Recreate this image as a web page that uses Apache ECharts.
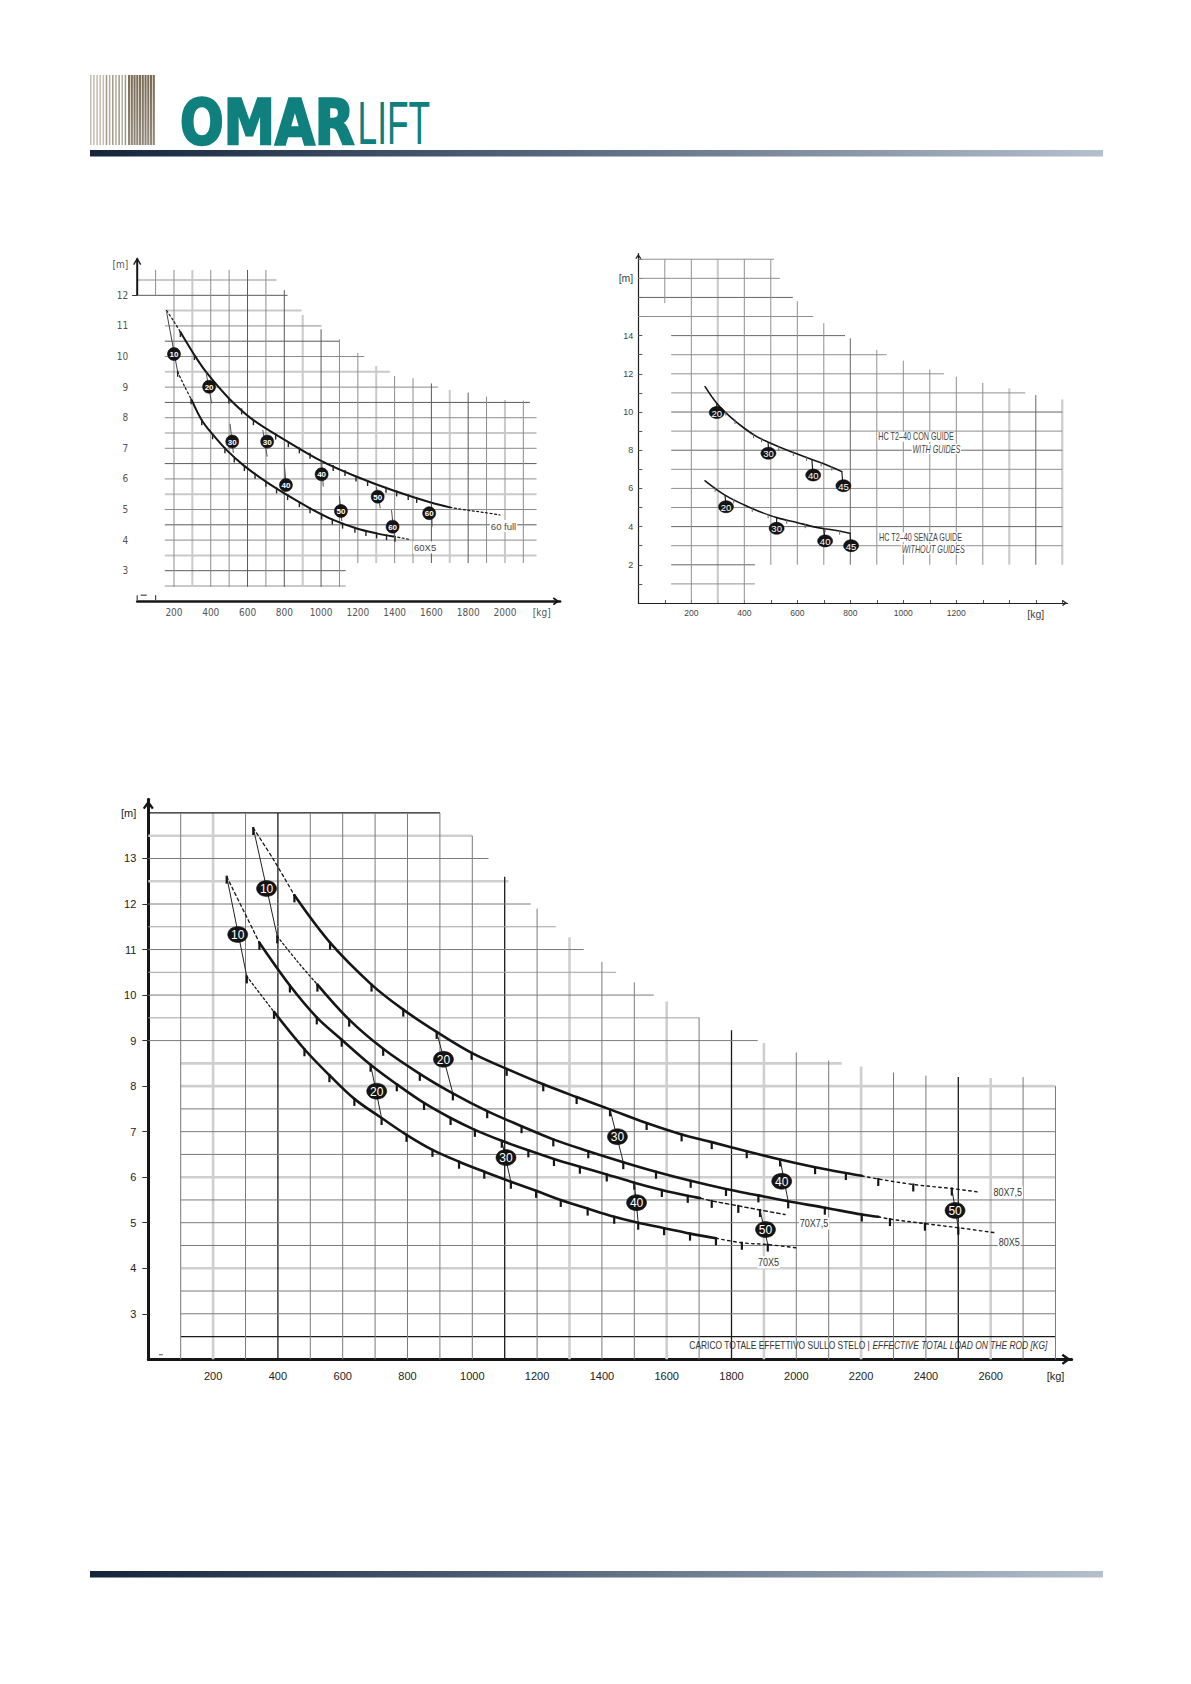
<!DOCTYPE html>
<html><head><meta charset="utf-8">
<script src="https://cdn.jsdelivr.net/npm/echarts/dist/echarts.min.js"></script>
<style>html,body{margin:0;padding:0;background:#fff}#c{width:1191px;height:1684px}</style>
</head><body><div id="c"></div>
<script>
// ================= DATA (axis units: kg, m) =================
// ---- top-left chart (60 full / 60X5) ----
const TL_X_LABELS = [200,400,600,800,1000,1200,1400,1600,1800,2000];
const TL_X_UNIT_AT = 2200;
const TL_Y_LABELS = [3,4,5,6,7,8,9,10,11,12];
const TL_Y_UNIT_AT = 13;
const TL_H_LINES = [[12.5,0,758],[12,0,818],[11.5,150,894],[11,150,1003],[10.5,150,1103],[10,150,1235],[9.5,150,1375],[9,150,1637],[8.5,150,2136],[8,150,2172],[7.5,150,2172],[7,150,2172],[6.5,150,2172],[6,150,2172],[5.5,150,2172],[5,150,2172],[4.5,150,2172],[4,150,2172],[3.5,150,2172],[3,150,1134],[2.5,150,1134]];
const TL_V_LINES = [[100,12,12.83],[200,2.47,12.83],[300,2.47,12.83],[400,2.47,12.83],[500,2.47,12.83],[600,2.47,12.83],[700,2.47,12.83],[800,2.47,12.17],[900,2.47,11.36],[1000,2.47,10.89],[1100,2.47,10.56],[1200,3.25,10.12],[1300,3.25,9.69],[1400,3.25,9.36],[1500,3.25,9.29],[1600,3.25,9.12],[1700,3.25,8.91],[1800,3.25,8.82],[1900,3.25,8.69],[2000,3.25,8.58],[2100,3.25,8.56]];
const TL_Y_AXIS_PART = [[0,12,0,13.2]];
const TL_STUBS = [[0,2.04,0,2.2],[100,2.04,100,2.2],[19,2.2,52,2.2]];
const TL_UPPER_LEAD = [[160,11.5],[197,11.17],[235,10.8]];
const TL_UPPER = [[235,10.8],[311,10.05],[378,9.47],[499,8.63],[632,7.92],[804,7.27],[1003,6.58],[1194,6.07],[1393,5.62],[1601,5.22],[1701,5.07]];
const TL_UPPER_TAIL = [[1701,5.07],[1792,4.98],[1890,4.9],[1973,4.82]];
const TL_LOWER_THIN = [[160,11.45],[220,9.5]];
const TL_LOWER_LEAD = [[220,9.5],[258,9.02],[296,8.58]];
const TL_LOWER = [[296,8.58],[351,7.92],[414,7.43],[487,6.94],[577,6.45],[700,5.91],[800,5.53],[940,5.04],[1066,4.66],[1194,4.38],[1302,4.22],[1393,4.12]];
const TL_LOWER_TAIL = [[1393,4.12],[1440,4.07],[1484,4.02]];
const TL_UPPER_TICKS = [[235,10.8],[311,10.05],[499,8.63],[568,8.27],[632,7.92],[753,7.45],[822,7.2],[882,7.0],[940,6.82],[1066,6.42],[1130,6.26],[1190,6.08],[1253,5.93],[1353,5.71],[1411,5.59],[1474,5.47],[1520,5.38]];
const TL_LOWER_TICKS = [[220,9.5],[293,8.6],[351,7.92],[410,7.46],[477,7.0],[528,6.7],[583,6.42],[641,6.17],[700,5.91],[758,5.69],[818,5.47],[882,5.24],[940,5.04],[1003,4.84],[1061,4.67],[1117,4.54],[1184,4.40],[1244,4.30],[1302,4.22],[1356,4.16],[1402,4.11]];
const TL_BADGE_POS = [[200,10.08],[391,9.01],[517,7.22],[707,7.22],[809,5.8],[1003,6.15],[1108,4.95],[1308,5.42],[1389,4.44],[1588,4.88]];
const TL_BADGE_TXT = ['10','20','30','30','40','40','50','50','60','60'];
const TL_LEADERS = [[374,9.5,405,8.47],[505,7.8,523,6.85],[683,7.6,707,6.73],[800,6.5,813,5.6],[1003,6.57,1012,5.75],[1100,5.44,1113,4.62],[1300,5.75,1322,5.04],[1383,4.98,1401,4.03],[1600,5.22,1604,4.44]];
const TL_NOTE_POS = [[1918,4.46],[1500,3.76]];
const TL_NOTE_TXT = ['60 full','60X5'];

// ---- top-right chart (HC T2-40) ----
const TR_X_LABELS = [200,400,600,800,1000,1200];
const TR_X_UNIT_AT = 1500;
const TR_Y_LABELS = [2,4,6,8,10,12,14];
const TR_Y_UNIT_AT = 17;
const TR_H_LINES = [[18,0,512],[17,0,534],[16,0,583],[15,0,660],[14,124,780],[13,124,937],[12,124,1154],[11,124,1460],[10,124,1600],[9,124,1600],[8,124,1600],[7,124,1600],[6,124,1600],[5,124,1600],[4,124,1600],[3,124,1600],[2,124,440],[1,124,440]];
const TR_V_LINES = [[100,15.7,18],[200,0,18],[300,0,18],[400,0,18],[500,2,18],[600,2,15.8],[700,2,14.65],[800,2,13.86],[900,2,13.25],[1000,2,12.69],[1100,2,12.23],[1200,2,11.85],[1300,2,11.53],[1400,2,11.24],[1500,2,10.89],[1600,2,10.66]];
const TR_UPPER = [[252,11.33],[296,10.46],[346,9.76],[400,9.15],[447,8.71],[491,8.42],[560,8.01],[610,7.75],[660,7.49],[711,7.23],[768,6.88]];
const TR_LOWER = [[252,6.4],[327,5.65],[400,5.13],[459,4.78],[522,4.47],[598,4.21],[673,3.96],[736,3.82],[799,3.65]];
const TR_TICKS = [[330,10.0],[365,9.55],[435,8.82],[465,8.6],[530,8.15],[585,7.88],[635,7.62],[690,7.33],[730,7.12],[290,6.0],[360,5.4],[430,4.95],[490,4.62],[560,4.33],[630,4.1],[705,3.89],[760,3.76]];
const TR_BADGE_POS = [[296,9.97],[491,7.84],[660,6.70],[774,6.14],[331,5.04],[522,3.91],[705,3.25],[803,3.0]];
const TR_BADGE_TXT = ['20','30','40','45','20','30','40','45'];
const TR_LEADERS = [[296,10.46,296,10.2],[490,8.42,491,8.1],[655,7.52,658,6.95],[768,6.88,771,6.4],[327,5.65,330,5.3],[522,4.47,522,4.15],[700,3.88,703,3.5],[799,3.65,801,3.25]];
const TR_NOTE_POS = [[903,8.71],[1218,8.06],[906,3.44],[1235,2.81]];
const TR_NOTE_TXT = ['HC T2\u201340 CON GUIDE','WITH GUIDES','HC T2\u201340 SENZA GUIDE','WITHOUT GUIDES'];

// ---- bottom chart (70X5, 70X7,5, 80X5, 80X7,5) ----
const B_X_LABELS = [200,400,600,800,1000,1200,1400,1600,1800,2000,2200,2400,2600];
const B_X_UNIT_AT = 2800;
const B_Y_LABELS = [3,4,5,6,7,8,9,10,11,12,13];
const B_Y_UNIT_AT = 14;
const B_H_LINES = [[14,0,900],[13.5,0,1000],[13,0,1050],[12.5,0,1112],[12,0,1180],[11.5,0,1258],[11,0,1344],[10.5,0,1444],[10,0,1560],[9.5,0,1700],[9,0,1881],[8.5,100,2140],[8,100,2800],[7.5,100,2800],[7,100,2800],[6.5,100,2800],[6,100,2800],[5.5,100,2800],[5,100,2800],[4.5,100,2800],[4,100,2800],[3.5,100,2800],[3,100,2800],[2.5,100,2800]];
const B_V_LINES = [[100,2,14],[200,2,14],[300,2,14],[400,2,14],[500,2,14],[600,2,14],[700,2,14],[800,2,14],[900,2,14],[1000,2,13.5],[1100,2,12.6],[1200,2,11.9],[1300,2,11.27],[1400,2,10.73],[1500,2,10.28],[1600,2,9.86],[1700,2,9.51],[1800,2,9.23],[1900,2,8.95],[2000,2,8.74],[2100,2,8.56],[2200,2,8.43],[2300,2,8.3],[2400,2,8.23],[2500,2,8.2],[2600,2,8.18],[2700,2,8.2],[2800,2,8.0]];
const B_STUBS = [[33,2.1,45,2.1]];
const B_C1_LEAD = [[324,13.67],[386,12.98],[451,12.19]];
const B_C1 = [[451,12.19],[561,11.15],[689,10.23],[787,9.68],[890,9.19],[998,8.73],[1106,8.38],[1219,8.04],[1322,7.76],[1425,7.49],[1538,7.19],[1646,6.94],[1739,6.77],[1847,6.57],[1950,6.39],[2058,6.22],[2153,6.09],[2202,6.03]];
const B_C1_TAIL = [[2202,6.03],[2253,5.96],[2361,5.84],[2480,5.75],[2567,5.67]];
const B_C2_LEAD = [[398,11.29],[460,10.74],[522,10.23]];
const B_C2 = [[522,10.23],[620,9.46],[725,8.82],[838,8.27],[940,7.84],[1046,7.45],[1152,7.12],[1250,6.83],[1358,6.57],[1466,6.33],[1567,6.12],[1674,5.92],[1783,5.74],[1883,5.60],[1975,5.47],[2088,5.33],[2202,5.18],[2253,5.13]];
const B_C2_TAIL = [[2253,5.13],[2289,5.08],[2397,4.98],[2500,4.89],[2613,4.78]];
const B_C3_LEAD = [[242,12.6],[343,11.15]];
const B_C3 = [[343,11.15],[437,10.21],[520,9.51],[597,9.02],[686,8.47],[767,8.04],[851,7.63],[933,7.30],[1008,7.04],[1091,6.80],[1173,6.59],[1252,6.40],[1332,6.23],[1415,6.06],[1500,5.88],[1585,5.72],[1665,5.59],[1703,5.54]];
const B_C3_TAIL = [[1703,5.54],[1739,5.48],[1821,5.37],[1888,5.28],[1965,5.18]];
const B_C4_LEAD = [[304,10.41],[388,9.63]];
const B_C4 = [[388,9.63],[482,8.81],[559,8.24],[636,7.72],[720,7.30],[797,6.93],[877,6.60],[959,6.34],[1037,6.12],[1119,5.90],[1197,5.70],[1273,5.50],[1356,5.31],[1438,5.13],[1512,5.00],[1592,4.88],[1672,4.76],[1752,4.66]];
const B_C4_TAIL = [[1752,4.66],[1832,4.56],[1912,4.52],[1998,4.45]];
const B_TICKS = [
  [324,13.67],[242,12.6],[398,11.29],[304,10.41],
  [451,12.19],[561,11.15],[689,10.23],[787,9.68],[890,9.19],[998,8.73],[1106,8.38],[1219,8.04],[1322,7.76],[1425,7.49],[1538,7.19],[1646,6.94],[1739,6.77],[1847,6.57],[1950,6.39],[2058,6.22],[2153,6.09],[2253,5.96],[2361,5.84],[2480,5.75],
  [522,10.23],[620,9.46],[725,8.82],[838,8.27],[940,7.84],[1046,7.45],[1152,7.12],[1250,6.83],[1358,6.57],[1466,6.33],[1567,6.12],[1674,5.92],[1783,5.74],[1883,5.60],[1975,5.47],[2088,5.33],[2202,5.18],[2289,5.08],[2397,4.98],[2500,4.89],
  [343,11.15],[437,10.21],[520,9.51],[597,9.02],[686,8.47],[767,8.04],[851,7.63],[933,7.30],[1008,7.04],[1091,6.80],[1173,6.59],[1252,6.40],[1332,6.23],[1415,6.06],[1500,5.88],[1585,5.72],[1665,5.59],[1739,5.48],[1821,5.37],[1888,5.28],
  [388,9.63],[482,8.81],[559,8.24],[636,7.72],[720,7.30],[797,6.93],[877,6.60],[959,6.34],[1037,6.12],[1119,5.90],[1197,5.70],[1273,5.50],[1356,5.31],[1438,5.13],[1512,5.00],[1592,4.88],[1672,4.76],[1752,4.66],[1832,4.56],[1912,4.52]
];
const B_THIN = [[324,13.67,398,11.29],[242,12.6,304,10.41]];
const B_LEADERS = [[890,9.19,940,7.84],[686,8.47,720,7.30],[1425,7.49,1466,6.33],[1091,6.80,1119,5.90],[1950,6.39,1975,5.47],[1500,5.88,1512,5.00],[2480,5.75,2500,4.89],[1888,5.28,1912,4.52]];
const B_BADGE_POS = [[365,12.34],[276,11.33],[911,8.59],[705,7.89],[1448,6.89],[1104,6.43],[1955,5.91],[1507,5.44],[2490,5.27],[1905,4.85]];
const B_BADGE_TXT = ['10','10','20','20','30','30','40','40','50','50'];
const B_NOTE_POS = [[2606,5.67],[2622,4.56],[2008,4.98],[1879,4.13]];
const B_NOTE_TXT = ['80X7,5','80X5','70X7,5','70X5'];
const B_AXIS_TITLE_POS = [[2775,2.29]];
const B_AXIS_TITLE = ['CARICO TOTALE EFFETTIVO SULLO STELO | ','EFFECTIVE TOTAL LOAD ON THE ROD [KG]'];

// ================= STYLES / HELPERS =================
const FONT = "'Liberation Sans', Arial, sans-serif";
const NARROW = "'Liberation Sans Narrow', 'DejaVu Sans Condensed', 'Liberation Sans', sans-serif";
const CHEV = 'path://M5,0 L10,7 L8.3,8.3 L5,3.8 L1.7,8.3 L0,7 Z';
const INK = '#161616';

function hSegs(lines){ return lines.map(l => [l[1], l[0], l[2], l[0]]); }
function vSegs(lines){ return lines.map(l => [l[0], l[1], l[0], l[2]]); }

function segSeries(gi, segs, styleOf, z){
  return {type:'custom', xAxisIndex:gi, yAxisIndex:gi, z:z||1, silent:true, clip:false, animation:false,
    data:segs,
    renderItem:function(params, api){
      const a = api.coord([api.value(0), api.value(1)]);
      const b = api.coord([api.value(2), api.value(3)]);
      return {type:'line', shape:{x1:a[0],y1:a[1],x2:b[0],y2:b[1]}, style:styleOf(params.dataIndex)};
    }};
}
function gridSeries(gi, items, z){
  items.sort((p,q)=>(q.style.lineWidth||1)-(p.style.lineWidth||1));
  return segSeries(gi, items.map(i=>i.seg), i=>items[i].style, z);
}
function curve(gi, data, width, dash, color){
  return {type:'line', xAxisIndex:gi, yAxisIndex:gi, data:data, showSymbol:false, symbol:'none',
    smooth:0.35, silent:true, z:3, animation:false,
    lineStyle:{color:color||INK, width:width, type:dash||'solid', cap:'round', join:'round'}};
}
function tickSeries(gi, pts, len, width, color){
  return {type:'custom', xAxisIndex:gi, yAxisIndex:gi, z:4, silent:true, clip:false, animation:false, data:pts,
    renderItem:function(params, api){
      const p = api.coord([api.value(0), api.value(1)]);
      return {type:'line', shape:{x1:p[0], y1:p[1]-1, x2:p[0], y2:p[1]+len}, style:{stroke:color, lineWidth:width}};
    }};
}
function badgeSeries(gi, pts, labels, rx, ry, font){
  return {type:'custom', xAxisIndex:gi, yAxisIndex:gi, z:6, silent:true, clip:false, animation:false, data:pts,
    renderItem:function(params, api){
      const p = api.coord([api.value(0), api.value(1)]);
      return {type:'group', children:[
        {type:'ellipse', shape:{cx:p[0], cy:p[1], rx:rx, ry:ry}, style:{fill:'#141414', stroke:'#000', lineWidth:0.5}},
        {type:'text', x:p[0], y:p[1]+0.5, style:{text:labels[params.dataIndex], fill:'#fff', font:font, align:'center', verticalAlign:'middle'}}
      ]};
    }};
}
function noteSeries(gi, pts, styleOf){
  return {type:'custom', xAxisIndex:gi, yAxisIndex:gi, z:7, silent:true, clip:false, animation:false, data:pts,
    renderItem:function(params, api){
      const p = api.coord([api.value(0), api.value(1)]);
      const s = styleOf(params.dataIndex);
      return {type:'text', x:p[0], y:p[1], scaleX:s.scaleX||1, style:s.style};
    }};
}
function arrowAxisSeries(gi, segs, width){
  return {type:'custom', xAxisIndex:gi, yAxisIndex:gi, z:5, silent:true, clip:false, animation:false, data:segs,
    renderItem:function(params, api){
      const a = api.coord([api.value(0), api.value(1)]);
      const b = api.coord([api.value(2), api.value(3)]);
      return {type:'group', children:[
        {type:'line', shape:{x1:a[0],y1:a[1],x2:b[0],y2:b[1]}, style:{stroke:INK, lineWidth:width}},
        {type:'polyline', shape:{points:[[b[0]-3.5,b[1]+6],[b[0],b[1]],[b[0]+3.5,b[1]+6]]}, style:{stroke:INK, lineWidth:1.3, fill:null}}
      ]};
    }};
}
function inList(v, list){ return list.some(x => Math.abs(x-v) < 1e-6); }
function lbl(v, list, unitAt, unit){ if (Math.abs(v-unitAt)<1e-6) return unit; return inList(v,list) ? String(v) : ''; }

// ---------- grid styles ----------
const TL_ST = { d:{stroke:'#5a5a5a', lineWidth:1}, m:{stroke:'#8c8c8c', lineWidth:1}, l:{stroke:'#c9c9c9', lineWidth:2} };
const TL_H_DARK = [12,10.5,8.5,6.5,4.5,3], TL_H_LIGHT = [12.5,11.5,9.5,7.5,5.5,3.5,2.5];
const TL_V_DARK = [600,800,1000,1600,1800], TL_V_LIGHT = [300,900,1300,1700,2000];
const TR_ST = { d:{stroke:'#666', lineWidth:1}, m:{stroke:'#8f8f8f', lineWidth:1}, l:{stroke:'#cccccc', lineWidth:2.2} };
const TR_H_DARK = [16,14,10,8,4,2], TR_V_DARK = [800,1500], TR_V_LIGHT = [300,1400,1600];
const B_ST = { k:{stroke:'#1a1a1a', lineWidth:1.3}, m:{stroke:'#7b7b7b', lineWidth:1}, l:{stroke:'#a3a3a3', lineWidth:1}, L:{stroke:'#cfcfcf', lineWidth:2.6} };
const B_H_BLACK = [14,2.5], B_H_LT = [13.5,12.5,8.5,8,6,4], B_H_L = [11.5,10.5,9.5];
const B_V_BLACK = [400,1100,1800,2500], B_V_LT = [200,1300,1600,1900,2200,2600];

const tlGrid = [];
hSegs(TL_H_LINES).forEach((s,i)=>{const m=TL_H_LINES[i][0]; tlGrid.push({seg:s, style: inList(m,TL_H_DARK)?TL_ST.d:inList(m,TL_H_LIGHT)?TL_ST.l:TL_ST.m});});
vSegs(TL_V_LINES).forEach((s,i)=>{const k=TL_V_LINES[i][0]; tlGrid.push({seg:s, style: inList(k,TL_V_DARK)?TL_ST.d:inList(k,TL_V_LIGHT)?TL_ST.l:TL_ST.m});});
const trGrid = [];
hSegs(TR_H_LINES).forEach((s,i)=>{const m=TR_H_LINES[i][0]; trGrid.push({seg:s, style: inList(m,TR_H_DARK)?TR_ST.d:TR_ST.m});});
vSegs(TR_V_LINES).forEach((s,i)=>{const k=TR_V_LINES[i][0]; trGrid.push({seg:s, style: inList(k,TR_V_DARK)?TR_ST.d:inList(k,TR_V_LIGHT)?TR_ST.l:TR_ST.m});});
const bGrid = [];
hSegs(B_H_LINES).forEach((s,i)=>{const m=B_H_LINES[i][0]; bGrid.push({seg:s, style: inList(m,B_H_BLACK)?B_ST.k:inList(m,B_H_LT)?B_ST.L:inList(m,B_H_L)?B_ST.l:B_ST.m});});
vSegs(B_V_LINES).forEach((s,i)=>{const k=B_V_LINES[i][0]; bGrid.push({seg:s, style: inList(k,B_V_BLACK)?B_ST.k:inList(k,B_V_LT)?B_ST.L:B_ST.m});});

// ---------- header / footer graphics ----------
const graphics = [];
for (let i=0;i<12;i++){
  graphics.push({type:'rect', shape:{x:90+i*3.15, y:75, width:1.5, height:70}, style:{fill: i<5 ? '#c2bbb0' : (i%2 ? '#a39886' : '#b4ab9d')}, silent:true});
}
for (let j=0;j<10;j++){
  graphics.push({type:'rect', shape:{x:128+j*2.75, y:75, width:2.1, height:70},
    style:{fill:new echarts.graphic.LinearGradient(0,0,0,1,[{offset:0,color:'#7a6a55'},{offset:1,color:'#948a7c'}])}, silent:true});
}
graphics.push({type:'text', x:180, y:122.5, scaleX:0.83, silent:true,
  style:{text:'OMAR', font:"900 62px 'DejaVu Sans', sans-serif", fill:'#0f807e', stroke:'#0f807e', lineWidth:2.4, align:'left', verticalAlign:'middle'}});
graphics.push({type:'text', x:357.5, y:122.5, scaleX:0.57, silent:true,
  style:{text:'LIFT', font:"400 62px 'Liberation Sans', sans-serif", fill:'#0f807e', align:'left', verticalAlign:'middle'}});
const barGrad = () => new echarts.graphic.LinearGradient(0,0,1,0,[{offset:0,color:'#15243a'},{offset:0.45,color:'#56657b'},{offset:1,color:'#b5bfcd'}]);
graphics.push({type:'rect', shape:{x:90, y:150, width:1013, height:6.5}, style:{fill:barGrad()}, silent:true});
graphics.push({type:'rect', shape:{x:90, y:1571, width:1013, height:6.5}, style:{fill:barGrad()}, silent:true});

// ================= OPTION =================
const option = {
  animation:false,
  graphic: graphics,
  grid:[
    {left:137.2, top:258.6, width:422.9, height:342.7, containLabel:false, outerBoundsMode:'none'},
    {left:638.3, top:253.5, width:429.3, height:349.5, containLabel:false, outerBoundsMode:'none'},
    {left:148.3, top:799.3, width:923.4, height:560.0, containLabel:false, outerBoundsMode:'none'}
  ],
  xAxis:[
    {gridIndex:0, type:'value', min:0, max:2300, interval:100, splitLine:{show:false}, axisTick:{show:false},
     axisLine:{show:true, onZero:false, lineStyle:{color:INK, width:2.6}, symbol:['none',CHEV], symbolSize:[8,8], symbolOffset:[0,-4]},
     axisLabel:{customValues:TL_X_LABELS.concat([TL_X_UNIT_AT]), formatter:v=>lbl(v,TL_X_LABELS,TL_X_UNIT_AT,'[kg]'), color:'#555', fontSize:10, fontFamily:NARROW, margin:6}},
    {gridIndex:1, type:'value', min:0, max:1620, interval:100, splitLine:{show:false},
     axisTick:{show:true, inside:true, length:3, customValues:[100,200,300,400,500,600,700,800,900,1000,1100,1200,1300,1400,1500,1600], lineStyle:{color:'#555', width:1}},
     axisLine:{show:true, onZero:false, lineStyle:{color:'#222', width:1.2}, symbol:['none',CHEV], symbolSize:[6,6], symbolOffset:[0,-3]},
     axisLabel:{customValues:TR_X_LABELS.concat([TR_X_UNIT_AT]), formatter:v=> Math.abs(v-TR_X_UNIT_AT)<1e-6 ? '{u|[kg]}' : lbl(v,TR_X_LABELS,-1,''), color:'#444', fontSize:8.5, fontFamily:FONT, margin:5,
       rich:{u:{fontSize:10.5, color:'#444', fontFamily:FONT}}}},
    {gridIndex:2, type:'value', min:0, max:2850, interval:100, splitLine:{show:false}, axisTick:{show:false},
     axisLine:{show:true, onZero:false, lineStyle:{color:INK, width:3}, symbol:['none',CHEV], symbolSize:[11,11], symbolOffset:[0,-5.5]},
     axisLabel:{customValues:B_X_LABELS.concat([B_X_UNIT_AT]), formatter:v=>lbl(v,B_X_LABELS,B_X_UNIT_AT,'[kg]'), color:'#222', fontSize:11, fontFamily:FONT, margin:11}}
  ],
  yAxis:[
    {gridIndex:0, type:'value', min:2, max:13.2, interval:1, splitLine:{show:false},
     axisLine:{show:false},
     axisTick:{show:true, length:5, customValues:[12], lineStyle:{color:'#333', width:1}},
     axisLabel:{customValues:TL_Y_LABELS.concat([TL_Y_UNIT_AT]), formatter:v=>lbl(v,TL_Y_LABELS,TL_Y_UNIT_AT,'[m]'), color:'#555', fontSize:10, fontFamily:NARROW, margin:9}},
    {gridIndex:1, type:'value', min:0, max:18.3, interval:1, splitLine:{show:false},
     axisLine:{show:true, onZero:false, lineStyle:{color:'#222', width:1.2}, symbol:['none',CHEV], symbolSize:[6,6], symbolOffset:[0,-3]},
     axisTick:{show:true, inside:true, length:4, customValues:[1,2,3,4,5,6,7,8,9,10,11,12,13,14,15,16,17,18], lineStyle:{color:'#555', width:1}},
     axisLabel:{customValues:TR_Y_LABELS.concat([TR_Y_UNIT_AT]), formatter:v=> Math.abs(v-TR_Y_UNIT_AT)<1e-6 ? '{u|[m]}' : lbl(v,TR_Y_LABELS,-1,''), color:'#444', fontSize:9, fontFamily:FONT, margin:5,
       rich:{u:{fontSize:10.5, color:'#444', fontFamily:FONT}}}},
    {gridIndex:2, type:'value', min:2, max:14.3, interval:1, splitLine:{show:false},
     axisLine:{show:true, onZero:false, lineStyle:{color:INK, width:3}, symbol:['none',CHEV], symbolSize:[11,11], symbolOffset:[0,-5.5]},
     axisTick:{show:true, length:6, customValues:B_Y_LABELS, lineStyle:{color:'#333', width:1}},
     axisLabel:{customValues:B_Y_LABELS.concat([B_Y_UNIT_AT]), formatter:v=>lbl(v,B_Y_LABELS,B_Y_UNIT_AT,'[m]'), color:'#222', fontSize:11, fontFamily:FONT, margin:12}}
  ],
  series:[
    // ---- TL ----
    gridSeries(0, tlGrid, 1),
    segSeries(0, TL_STUBS, ()=>({stroke:'#444', lineWidth:1.2}), 2),
    arrowAxisSeries(0, TL_Y_AXIS_PART, 2),
    curve(0, TL_UPPER_LEAD, 1.2, [2,2.5]),
    curve(0, TL_UPPER, 2),
    curve(0, TL_UPPER_TAIL, 1.2, [2,2.5]),
    segSeries(0, [TL_LOWER_THIN[0].concat(TL_LOWER_THIN[1])], ()=>({stroke:'#444', lineWidth:1}), 3),
    curve(0, TL_LOWER_LEAD, 1.2, [2,2.5]),
    curve(0, TL_LOWER, 2),
    curve(0, TL_LOWER_TAIL, 1.2, [2,2.5]),
    tickSeries(0, TL_UPPER_TICKS, 5, 1.4, '#222'),
    tickSeries(0, TL_LOWER_TICKS, 5, 1.4, '#222'),
    segSeries(0, TL_LEADERS, ()=>({stroke:'#555', lineWidth:1}), 5),
    badgeSeries(0, TL_BADGE_POS, TL_BADGE_TXT, 6.5, 6.5, "bold 8px 'Liberation Sans', sans-serif"),
    noteSeries(0, TL_NOTE_POS, i=>({style:{text:TL_NOTE_TXT[i], font:"9.5px 'Liberation Sans', sans-serif", fill:'#444', align:'left', verticalAlign:'middle', backgroundColor:'#fff', padding:[1,1]}})),
    // ---- TR ----
    gridSeries(1, trGrid, 1),
    curve(1, TR_UPPER, 1.6),
    curve(1, TR_LOWER, 1.6),
    tickSeries(1, TR_TICKS, 3.5, 1, '#666'),
    segSeries(1, TR_LEADERS, ()=>({stroke:'#222', lineWidth:1.2}), 5),
    badgeSeries(1, TR_BADGE_POS, TR_BADGE_TXT, 7.5, 6, "9.5px 'Liberation Sans', sans-serif"),
    noteSeries(1, TR_NOTE_POS, i=>({scaleX:0.72, style:{text:TR_NOTE_TXT[i], font:(i%2 ? 'italic ' : '') + "10px 'Liberation Sans', sans-serif", fill:'#444', align: i%2 ? 'right' : 'left', verticalAlign:'middle', backgroundColor:'#fff', padding:[0,1]}})),
    // ---- Bottom ----
    gridSeries(2, bGrid, 1),
    segSeries(2, B_STUBS, ()=>({stroke:'#555', lineWidth:1}), 2),
    curve(2, B_C1_LEAD, 1.3, [3,3]),
    curve(2, B_C1, 2.6),
    curve(2, B_C1_TAIL, 1.4, [2.5,3.5]),
    curve(2, B_C2_LEAD, 1.3, [2,2.5]),
    curve(2, B_C2, 2.6),
    curve(2, B_C2_TAIL, 1.4, [2.5,3.5]),
    curve(2, B_C3_LEAD, 1.3, [3,3]),
    curve(2, B_C3, 2.6),
    curve(2, B_C3_TAIL, 1.4, [3.5,3]),
    curve(2, B_C4_LEAD, 1.3, [2,2.5]),
    curve(2, B_C4, 2.6),
    curve(2, B_C4_TAIL, 1.4, [2.5,3.5]),
    tickSeries(2, B_TICKS, 7, 2.2, '#141414'),
    segSeries(2, B_THIN, ()=>({stroke:'#222', lineWidth:1}), 5),
    segSeries(2, B_LEADERS, ()=>({stroke:'#222', lineWidth:1}), 5),
    badgeSeries(2, B_BADGE_POS, B_BADGE_TXT, 10, 8, "12px 'Liberation Sans', sans-serif"),
    noteSeries(2, B_NOTE_POS, i=>({scaleX:0.9, style:{text:B_NOTE_TXT[i], font:"10px 'Liberation Sans', sans-serif", fill:'#333', align:'left', verticalAlign:'middle', backgroundColor:'#fff', padding:[1,1]}})),
    noteSeries(2, B_AXIS_TITLE_POS, ()=>({scaleX:0.845, style:{text:'{a|'+B_AXIS_TITLE[0]+'}{b|'+B_AXIS_TITLE[1]+'}', align:'right', verticalAlign:'middle',
      rich:{a:{font:"10px 'Liberation Sans', sans-serif", fill:'#333'}, b:{font:"italic 10px 'Liberation Sans', sans-serif", fill:'#333'}}}}))
  ]
};

const chart = echarts.init(document.getElementById('c'), null, {renderer:'svg', width:1191, height:1684});
chart.setOption(option);
</script></body></html>
